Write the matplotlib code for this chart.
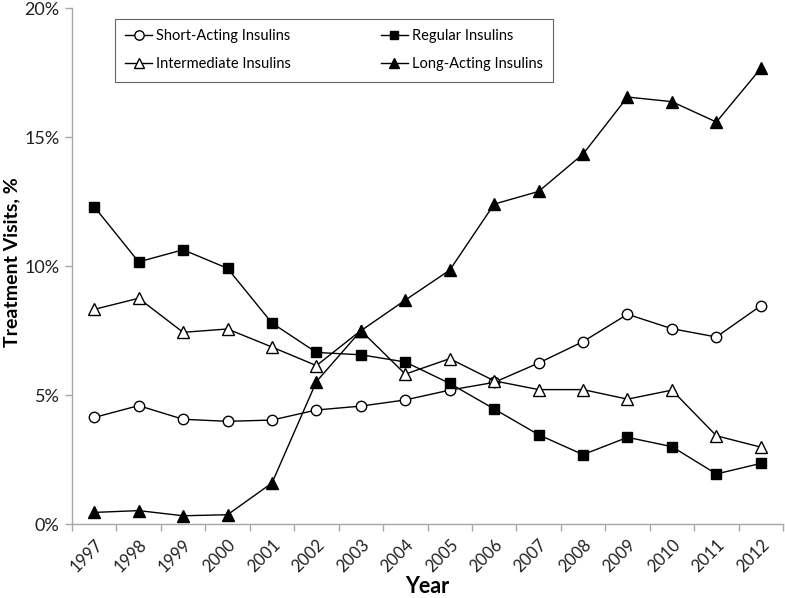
import numpy as np
import matplotlib.pyplot as plt

# Data (percent of treatment visits)
years = ['1997', '1998', '1999', '2000', '2001', '2002', '2003', '2004',
         '2005', '2006', '2007', '2008', '2009', '2010', '2011', '2012']
short_acting = [4.13, 4.59, 4.06, 3.98, 4.03, 4.42, 4.57, 4.81,
                5.19, 5.49, 6.24, 7.07, 8.13, 7.57, 7.25, 8.46]
regular = [12.30, 10.16, 10.63, 9.91, 7.79, 6.65, 6.56, 6.28,
           5.45, 4.46, 3.46, 2.69, 3.36, 3.00, 1.94, 2.35]
intermediate = [8.32, 8.75, 7.43, 7.56, 6.86, 6.14, 7.50, 5.81,
                6.41, 5.55, 5.21, 5.21, 4.84, 5.19, 3.42, 2.98]
long_acting = [0.45, 0.52, 0.32, 0.36, 1.59, 5.52, 7.49, 8.68,
               9.84, 12.40, 12.89, 14.34, 16.55, 16.37, 15.58, 17.66]

plt.rcParams['font.family'] = ['Lato', 'DejaVu Sans']

fig = plt.figure(figsize=(7.85, 5.98), dpi=100)
ax = fig.add_axes([0.0917, 0.1237, 0.9058, 0.8629])

x = np.arange(len(years))
ms = 7.5
ax.plot(x, short_acting, color='black', lw=1, marker='o', ms=ms,
        mfc='white', mec='black', mew=1, label='Short-Acting Insulins')
ax.plot(x, intermediate, color='black', lw=1, marker='^', ms=ms + 0.5,
        mfc='white', mec='black', mew=1, label='Intermediate Insulins')
ax.plot(x, regular, color='black', lw=1, marker='s', ms=ms - 0.5,
        mfc='black', mec='black', label='Regular Insulins')
ax.plot(x, long_acting, color='black', lw=1, marker='^', ms=ms + 0.5,
        mfc='black', mec='black', label='Long-Acting Insulins')

ax.set_xlim(-0.5, len(years) - 0.5)
ax.set_ylim(0, 20)

# category labels at centers, tick marks at boundaries
ax.set_xticks(x)
ax.set_xticklabels(years, rotation=45, ha='right', rotation_mode='anchor',
                   fontsize=12, color='#202020')
ax.set_xticks(np.arange(len(years) + 1) - 0.5, minor=True)
ax.tick_params(axis='x', which='major', length=0, pad=9)
ax.tick_params(axis='x', which='minor', length=5, color='#a6a6a6', width=1)

ax.set_yticks([0, 5, 10, 15, 20])
ax.set_yticklabels(['0%', '5%', '10%', '15%', '20%'], fontsize=13,
                   color='#202020')
ax.tick_params(axis='y', length=5, color='#a6a6a6', width=1, pad=4)

for side in ['top', 'right']:
    ax.spines[side].set_visible(False)
for side in ['left', 'bottom']:
    ax.spines[side].set_color('#a6a6a6')
    ax.spines[side].set_linewidth(1)

# y label placed in figure coords so it stays inside the canvas
fig.text(12 / 785, 1 - 262 / 598, 'Treatment Visits, %', fontsize=14,
         fontweight='bold', rotation=90, ha='center', va='center')
ax.set_xlabel('Year', fontsize=15.5, fontweight='bold', labelpad=1)

handles, labels = ax.get_legend_handles_labels()
leg = ax.legend(handles, labels, ncol=2, loc='upper left',
                bbox_to_anchor=(0.0505, 0.9935), fontsize=10.5, frameon=True,
                fancybox=False, edgecolor='#404040', handlelength=1.8,
                handletextpad=0.3, columnspacing=6.2, borderpad=0.7,
                labelspacing=1.0, markerscale=0.9)
leg.get_frame().set_linewidth(0.8)

fig.savefig('out.png', dpi=100)
